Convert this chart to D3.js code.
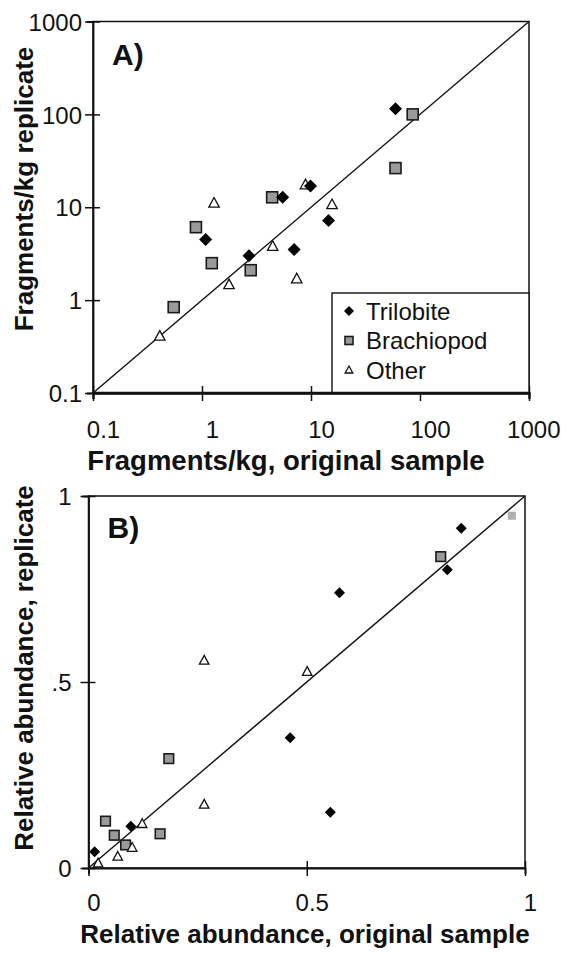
<!DOCTYPE html>
<html>
<head>
<meta charset="utf-8">
<title>Fragments replicate comparison</title>
<script src="https://cdn.jsdelivr.net/npm/d3@7"></script>
<style>
body { margin: 0; background: #fff; }
svg { display: block; font-family: "Liberation Sans", Arial, sans-serif; }
.tick text { font-size: 24px; fill: #111; }
.title { font-size: 26px; font-weight: bold; fill: #111; }
.panel { font-size: 30px; font-weight: bold; fill: #111; }
.legend text { font-size: 24px; fill: #111; }
</style>
</head>
<body>
<svg id="chart" width="561" height="953"></svg>
<script>

// panel A: fragments/kg (original, replicate)
var trilobiteA = [[59.6,115],[9.9,16.9],[5.5,12.8],[14.5,7.2],[1.08,4.5],[7.0,3.5],[2.7,3.0]];
var brachiopodA = [[85.7,100],[59.6,26.4],[4.4,12.8],[0.88,6.1],[1.23,2.5],[2.8,2.1],[0.55,0.84]];
var otherA = [[8.9,17.5],[1.29,11.1],[15.6,10.7],[4.45,3.8],[7.4,1.7],[1.77,1.47],[0.41,0.41]];

// panel B: relative abundance (original, replicate)
var trilobiteB = [[0.854,0.913],[0.822,0.802],[0.575,0.740],[0.462,0.350],[0.554,0.150],[0.097,0.112],[0.014,0.044]];
var brachiopodB = [[0.807,0.837],[0.184,0.294],[0.039,0.126],[0.164,0.092],[0.059,0.088],[0.085,0.062]];
var brachiopodBLight = [[0.970,0.947]];
var otherB = [[0.265,0.558],[0.501,0.528],[0.265,0.171],[0.123,0.119],[0.100,0.055],[0.067,0.031],[0.022,0.013]];

var aTicks = [0.1, 1, 10, 100, 1000];
var aTickLabels = ["0.1", "1", "10", "100", "1000"];
var bTicks = [0, 0.5, 1];
var bXTickLabels = ["0", "0.5", "1"];
var bYTickLabels = ["0", ".5", "1"];
var legendNames = ["Trilobite", "Brachiopod", "Other"];

var svg = d3.select("#chart");

function drawMarker(g, type, x, y, s, fill) {
	if (type === "diamond") {
		g.append("path")
			.attr("d", "M" + x + "," + (y - s) + "L" + (x + s) + "," + y + "L" + x + "," + (y + s) + "L" + (x - s) + "," + y + "Z")
			.attr("fill", "#000");
	} else if (type === "square") {
		g.append("rect")
			.attr("x", x - s).attr("y", y - s)
			.attr("width", 2 * s).attr("height", 2 * s)
			.attr("fill", fill || "#9a9a9a")
			.attr("stroke", fill ? "none" : "#1a1a1a")
			.attr("stroke-width", 1.6);
	} else {
		g.append("path")
			.attr("d", "M" + x + "," + (y - s) + "L" + (x + s * 0.95) + "," + (y + s * 0.75) + "L" + (x - s * 0.95) + "," + (y + s * 0.75) + "Z")
			.attr("fill", "#fff")
			.attr("stroke", "#111")
			.attr("stroke-width", 1.3);
	}
}

function panel(opt) {
	var g = svg.append("g");
	var x = opt.x, y = opt.y;
	var r = x.range(), t = y.range();

	// 1:1 line
	var dom = x.domain();
	g.append("line")
		.attr("x1", x(dom[0])).attr("y1", y(dom[0]))
		.attr("x2", x(dom[1])).attr("y2", y(dom[1]))
		.attr("stroke", "#111").attr("stroke-width", 1.4);

	// frame
	g.append("rect")
		.attr("x", r[0]).attr("y", t[1])
		.attr("width", r[1] - r[0]).attr("height", t[0] - t[1])
		.attr("fill", "none").attr("stroke", "#111").attr("stroke-width", 1.5);

	var xAxis = d3.axisBottom(x).tickValues(opt.ticks)
		.tickFormat(function(d, i){ return opt.xLabels[i]; });
	var yAxis = d3.axisLeft(y).tickValues(opt.ticks)
		.tickFormat(function(d, i){ return opt.yLabels[i]; });

	var gx = g.append("g")
		.attr("transform", "translate(0," + t[0] + ")")
		.call(xAxis);
	gx.select(".domain").attr("stroke", "#111").attr("stroke-width", opt.bottomWidth);
	gx.selectAll(".tick line").attr("y1", -7).attr("y2", 8).attr("stroke", "#111").attr("stroke-width", 1.5);
	gx.selectAll(".tick text").attr("y", opt.xLabelY).attr("dy", null).attr("dx", opt.xLabelDx);

	var gy = g.append("g")
		.attr("transform", "translate(" + r[0] + ",0)")
		.call(yAxis);
	gy.select(".domain").attr("stroke", "#111").attr("stroke-width", 1.8);
	gy.selectAll(".tick line").attr("x1", -8).attr("x2", 7).attr("stroke", "#111").attr("stroke-width", 1.5);
	gy.selectAll(".tick text").attr("x", opt.yLabelX).attr("dy", "0.36em");

	var pts = g.append("g");
	opt.series.forEach(function(s){
		s.data.forEach(function(d){
			drawMarker(pts, s.type, x(d[0]), y(d[1]), s.size, s.fill);
		});
	});

	g.append("text").attr("class", "panel")
		.attr("x", r[0] + 19).attr("y", opt.panelY).text(opt.panel);

	g.append("text").attr("class", "title")
		.attr("text-anchor", "middle")
		.style("font-size", opt.xTitleSize + "px")
		.attr("x", opt.xTitleX).attr("y", opt.xTitleY).text(opt.xTitle);

	g.append("text").attr("class", "title")
		.attr("text-anchor", "middle")
		.attr("transform", "translate(33," + opt.yTitleY + ") rotate(-90)")
		.text(opt.yTitle);
	return { g: g, gx: gx };
}

// panel A
var xA = d3.scaleLog().domain([0.1, 1000]).range([93, 529]);
var yA = d3.scaleLog().domain([0.1, 1000]).range([393, 21.5]);

var pA = panel({
	x: xA, y: yA, ticks: aTicks, xLabels: aTickLabels, yLabels: aTickLabels,
	xLabelY: 45, xLabelDx: 10, yLabelX: -11, bottomWidth: 2.4,
	panel: "A)", panelY: 65,
	xTitle: "Fragments/kg, original sample", xTitleX: 286, xTitleY: 470, xTitleSize: 27.5,
	yTitle: "Fragments/kg replicate", yTitleY: 189,
	series: [
		{ type: "square", data: brachiopodA, size: 5.5 },
		{ type: "triangle", data: otherA, size: 5.5 },
		{ type: "diamond", data: trilobiteA, size: 6.5 }
	]
});
var gA = pA.g;
// last x label sits against the right edge of the figure
pA.gx.selectAll(".tick text").filter(function(d){ return d === 1000; })
	.attr("text-anchor", "end").attr("dx", 560 - xA(1000));

// legend
var lg = gA.append("g").attr("class", "legend");
lg.append("rect")
	.attr("x", 332).attr("y", 293)
	.attr("width", 529 - 332).attr("height", 393 - 293)
	.attr("fill", "#fff").attr("stroke", "#111").attr("stroke-width", 1.4);
var legendTypes = ["diamond", "square", "triangle"];
var legendY = d3.scalePoint().domain(legendNames).range([311, 370]);
legendNames.forEach(function(name, i){
	drawMarker(lg, legendTypes[i], 349, legendY(name), i === 0 ? 5 : 4);
	lg.append("text")
		.attr("x", 366).attr("y", legendY(name)).attr("dy", "0.36em")
		.text(name);
});
// redraw bottom axis line over legend edge
gA.append("line")
	.attr("x1", 93).attr("x2", 529).attr("y1", 393).attr("y2", 393)
	.attr("stroke", "#111").attr("stroke-width", 2.4);

// panel B
var xB = d3.scaleLinear().domain([0, 1]).range([88.5, 525]);
var yB = d3.scaleLinear().domain([0, 1]).range([868, 496]);

panel({
	x: xB, y: yB, ticks: bTicks, xLabels: bXTickLabels, yLabels: bYTickLabels,
	xLabelY: 43, xLabelDx: 5, yLabelX: -17, bottomWidth: 1.8,
	panel: "B)", panelY: 538,
	xTitle: "Relative abundance, original sample", xTitleX: 305, xTitleY: 943, xTitleSize: 26,
	yTitle: "Relative abundance, replicate", yTitleY: 668,
	series: [
		{ type: "square", data: brachiopodB, size: 4.8 },
		{ type: "square", data: brachiopodBLight, size: 4, fill: "#b0b0b0" },
		{ type: "triangle", data: otherB, size: 5 },
		{ type: "diamond", data: trilobiteB, size: 5.5 }
	]
});
</script>
</body>
</html>
